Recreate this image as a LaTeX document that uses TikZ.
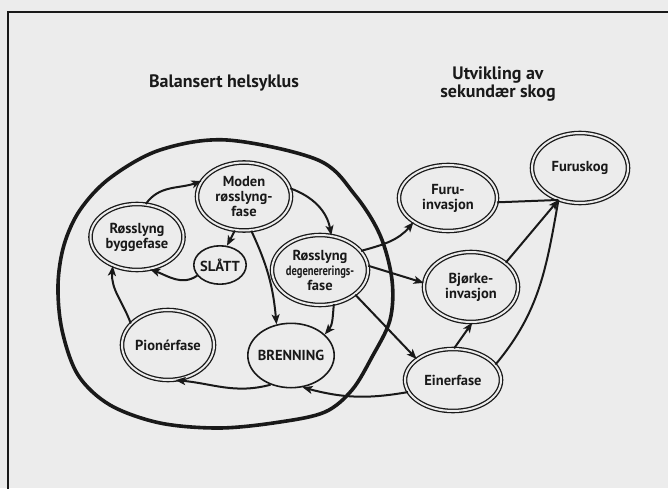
\documentclass[tikz,border=0pt]{standalone}
\usepackage{fontspec}
\setmainfont{PT Sans}
\newfontfamily\condfont[FakeStretch=0.78]{PT Sans}
\usetikzlibrary{arrows.meta,shapes.geometric}
\definecolor{bg}{RGB}{236,236,236}
\definecolor{ink}{RGB}{25,25,25}
\begin{document}
\begin{tikzpicture}[x=1pt,y=1pt,
  lbl/.style={font=\bfseries\fontsize{14.5}{15}\selectfont, align=center, text=ink, inner sep=0pt},
  ttl/.style={font=\bfseries\fontsize{18}{16}\selectfont, align=center, text=ink},
  dbl/.style={ellipse, draw=ink, line width=1.3pt, double=bg, double distance=2pt, fill=bg, inner sep=0pt},
  sgl/.style={ellipse, draw=ink, line width=1.6pt, fill=bg, inner sep=0pt},
  arr/.style={draw=ink, line width=2pt, -{Stealth[length=10pt,width=8pt,inset=2.5pt]}},
  ln/.style={draw=ink, line width=2pt},
]
\useasboundingbox (0,0) rectangle (668,488);
\fill[bg] (0,0) rectangle (668,488);
\draw[ink, line width=2.4pt] (8,-10) -- (8,476) -- (690,476);

% titles
\node[ttl] (t1) at (224,405) {Balansert helsyklus};
\node[ttl] (t2) at (498,404) {Utvikling av\\sekundær skog};

% big cycle outline
\draw[ink, line width=3.6pt] plot[smooth cycle, tension=0.55] coordinates {
  (227,348) (318,328) (355,293) (380,253) (392,208) (390,168) (372,131) (352,98)
  (325,76) (280,66) (220,60) (160,65) (110,83) (78,113) (62,158) (58,203)
  (64,243) (80,278) (110,310) (160,338)};

% nodes
\node[dbl, minimum width=94, minimum height=68, label={[lbl]center:Moden\\røsslyng-\\fase}] (moden) at (244,291.5) {};
\node[dbl, minimum width=93, minimum height=66, label={[lbl]center:Røsslyng\\byggefase}] (bygg) at (137,251) {};
\node[sgl, minimum width=52.4, minimum height=38.4, label={[lbl]center:SLÅTT}] (slatt) at (220,223) {};
\node[dbl, minimum width=92, minimum height=70, label={[lbl]center:Pionérfase}] (pion) at (168,143) {};
\node[sgl, minimum width=86.4, minimum height=64.4, label={[lbl]center:BRENNING}] (brenn) at (291,132.5) {};
\node[dbl, minimum width=96, minimum height=70, label={[lbl]center:Røsslyng\\{\condfont\bfseries\fontsize{13.5}{15}\selectfont degenererings-}\\fase}] (degen) at (320,218) {};
\node[dbl, minimum width=98, minimum height=66, label={[lbl]center:Furu-\\invasjon}] (furu) at (448,290) {};
\node[dbl, minimum width=96, minimum height=70, label={[lbl]center:Furuskog}] (skog) at (580,320) {};
\node[dbl, minimum width=94, minimum height=70, label={[lbl]center:Bjørke-\\invasjon}] (bjorke) at (471,201) {};
\node[dbl, minimum width=96, minimum height=62, label={[lbl]center:Einerfase}] (einer) at (453,108) {};

% cycle arrows
\draw[arr] (bygg.75) to[out=55,in=200] (moden.160);
\draw[arr] (moden.10) to[out=-20,in=100] (degen.72);
\draw[arr] (moden.-105) -- (slatt.70);
\draw[arr] (slatt.205) to[out=215,in=-20] (bygg.-68);
\draw[arr] (moden.-78) to[bend left=10] (brenn.115);
\draw[arr] (degen.-68) to[out=-95,in=50] (brenn.32);
\draw[arr] (brenn.-125) to[out=195,in=-5] (pion.-78);
\draw[arr] (pion.150) to[out=110,in=-95] (bygg.-130);

% succession arrows
\draw[arr] (degen.25) to[out=15,in=230] (furu.-145);
\draw[arr] (degen.5) -- (bjorke.175);
\draw[arr] (degen.-35) -- (einer.150);
\draw[ln] (furu.-5) -- (skog.-124);
\draw[ln] (einer.20) to[out=50,in=-100] (skog.-124);
\draw[arr] (bjorke.35) -- (skog.-124);
\draw[arr] (einer.88) -- (bjorke.-88);
\draw[arr] (einer.195) to[out=190,in=-15] (brenn.-70);
\end{tikzpicture}
\end{document}
